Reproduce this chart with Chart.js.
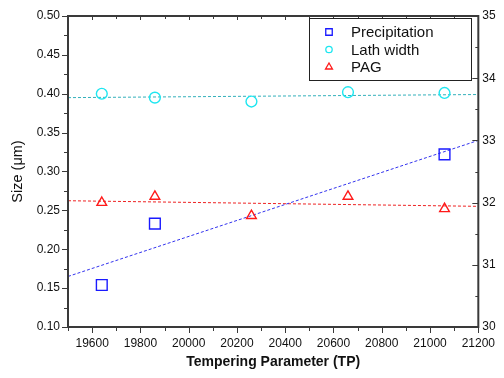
<!DOCTYPE html>
<html><head><meta charset="utf-8">
<script src="https://cdn.jsdelivr.net/npm/chart.js@4"></script>
<style>html,body{margin:0;padding:0;background:#fff}#wrap{width:504px;height:378px}</style>
</head><body><div id="wrap"><canvas id="c" width="504" height="378"></canvas></div>
<script>
// Data
const seriesNames = ['Precipitation', 'Lath width', 'PAG'];
const precipX = [19640, 19860, 21060];
const precipY = [0.154, 0.233, 0.322];
const lathX = [19640, 19860, 20260, 20660, 21060];
const lathY = [0.400, 0.395, 0.390, 0.402, 0.401];
const pagX = [19640, 19860, 20260, 20660, 21060];
const pagY = [32.0, 32.1, 31.79, 32.1, 31.9]; // right axis
// Fitted trend-line endpoints
const fitX = [19500, 21200];
const precipFit = [0.165, 0.340];
const lathFit = [0.395, 0.399];
const pagFit = [32.03, 31.94];
const xTicks = [19600, 19800, 20000, 20200, 20400, 20600, 20800, 21000, 21200];
const yTicks = [0.10, 0.15, 0.20, 0.25, 0.30, 0.35, 0.40, 0.45, 0.50];
const y2Ticks = [30, 31, 32, 33, 34, 35];

const pts = (xs, ys) => xs.map((x, i) => ({x, y: ys[i]}));
const C_BLUE = '#1a1aff', C_CYAN = '#1ee6f0', C_RED = '#ff1a1a';
const AX = '#3a3a3a';
const FONT = '"Liberation Sans", Arial, sans-serif';

const framePlugin = {
  id: 'frame',
  afterDraw(chart) {
    const ctx = chart.ctx, a = chart.chartArea;
    const sx = chart.scales.x, sy = chart.scales.y, sy2 = chart.scales.y2;
    ctx.save();
    ctx.strokeStyle = AX; ctx.lineWidth = 1;
    // x ticks (bottom outward, top inward)
    for (let v = 19500; v <= 21200; v += 100) {
      const px = Math.round(sx.getPixelForValue(v)) + 0.5;
      const major = v % 200 === 0;
      ctx.beginPath();
      ctx.moveTo(px, a.bottom); ctx.lineTo(px, a.bottom + (major ? 6 : 4));
      ctx.moveTo(px, a.top); ctx.lineTo(px, a.top + (major ? 4 : 3));
      ctx.stroke();
    }
    // left y ticks outward
    for (let k = 0; k <= 16; k++) {
      const v = 0.10 + k * 0.025;
      const py = Math.round(sy.getPixelForValue(v)) + 0.5;
      const major = k % 2 === 0;
      ctx.beginPath();
      ctx.moveTo(a.left, py); ctx.lineTo(a.left - (major ? 6 : 4), py);
      ctx.stroke();
    }
    // right y2 ticks inward
    for (let k = 0; k <= 10; k++) {
      const v = 30 + k * 0.5;
      const py = Math.round(sy2.getPixelForValue(v)) + 0.5;
      const major = k % 2 === 0;
      ctx.beginPath();
      ctx.moveTo(a.right, py); ctx.lineTo(a.right - (major ? 6 : 3), py);
      ctx.stroke();
    }
    // frame
    ctx.lineWidth = 2;
    ctx.strokeRect(a.left, a.top, a.right - a.left, a.bottom - a.top);
    // legend
    const lx = 309, ly = 18, lw = 162, lh = 62;
    ctx.fillStyle = '#fff';
    ctx.fillRect(lx, ly, lw, lh);
    ctx.lineWidth = 1; ctx.strokeStyle = '#222';
    ctx.strokeRect(lx + 0.5, ly + 0.5, lw, lh);
    const rows = [32, 49.5, 67];
    const styles = [['rect', C_BLUE, 4.6], ['circle', C_CYAN, 3.2], ['triangle', C_RED, 4]];
    ctx.font = '15px ' + FONT; ctx.textBaseline = 'middle';
    rows.forEach((ry, i) => {
      ctx.save();
      ctx.strokeStyle = styles[i][1]; ctx.fillStyle = 'rgba(0,0,0,0)'; ctx.lineWidth = 1.3;
      Chart.helpers.drawPoint(ctx, {pointStyle: styles[i][0], radius: styles[i][2], rotation: 0, borderWidth: 1.3}, 329, ry);
      ctx.restore();
      ctx.fillStyle = '#111';
      ctx.fillText(chart.data.datasets[i].label, 351, ry + 1);
    });
    ctx.restore();
  }
};

new Chart(document.getElementById('c'), {
  type: 'scatter',
  data: {
    datasets: [
      {label: seriesNames[0], data: pts(precipX, precipY), yAxisID: 'y', pointStyle: 'rect', pointRadius: 7.6, pointBorderWidth: 1.4, borderColor: C_BLUE, backgroundColor: 'transparent', showLine: false},
      {label: seriesNames[1], data: pts(lathX, lathY), yAxisID: 'y', pointStyle: 'circle', pointRadius: 5.4, pointBorderWidth: 1.4, borderColor: C_CYAN, backgroundColor: 'transparent', showLine: false},
      {label: seriesNames[2], data: pts(pagX, pagY), yAxisID: 'y2', pointStyle: 'triangle', pointRadius: 5.6, pointBorderWidth: 1.4, borderColor: C_RED, backgroundColor: 'transparent', showLine: false},
      {label: 'fitP', type: 'line', data: pts(fitX, precipFit), yAxisID: 'y', borderColor: '#3333ee', borderWidth: 1, borderDash: [3, 2], pointRadius: 0, fill: false},
      {label: 'fitL', type: 'line', data: pts(fitX, lathFit), yAxisID: 'y', borderColor: '#33b0bb', borderWidth: 1, borderDash: [3, 2], pointRadius: 0, fill: false},
      {label: 'fitG', type: 'line', data: pts(fitX, pagFit), yAxisID: 'y2', borderColor: '#ee2222', borderWidth: 1, borderDash: [3, 2], pointRadius: 0, fill: false}
    ]
  },
  options: {
    responsive: false, animation: false, devicePixelRatio: 1,
    layout: {padding: {top: 16, left: 0, right: 0, bottom: 0}},
    plugins: {legend: {display: false}, tooltip: {enabled: false}},
    scales: {
      x: {
        type: 'linear', min: 19500, max: 21200,
        afterFit: s => { s.height = 51; },
        afterBuildTicks: s => { s.ticks = xTicks.map(v => ({value: v})); },
        grid: {display: false, drawTicks: false}, border: {display: false},
        ticks: {padding: 9, color: '#111', font: {family: FONT, size: 12}, maxRotation: 0, autoSkip: false, callback: v => String(v)},
        title: {display: true, text: 'Tempering Parameter (TP)', color: '#111', font: {family: FONT, size: 14, weight: 'bold'}, padding: {top: 0, bottom: 7}}
      },
      y: {
        type: 'linear', position: 'left', min: 0.10, max: 0.50,
        afterFit: s => { s.width = 68; },
        afterBuildTicks: s => { s.ticks = yTicks.map(v => ({value: v})); },
        grid: {display: false, drawTicks: false}, border: {display: false},
        ticks: {padding: 8, color: '#111', font: {family: FONT, size: 12}, callback: v => v.toFixed(2)},
        title: {display: true, text: 'Size (μm)', color: '#111', font: {family: FONT, size: 14.5}, padding: {top: 9, bottom: 0}}
      },
      y2: {
        type: 'linear', position: 'right', min: 30, max: 35,
        afterFit: s => { s.width = 23; },
        afterBuildTicks: s => { s.ticks = y2Ticks.map(v => ({value: v})); },
        grid: {display: false, drawTicks: false}, border: {display: false},
        ticks: {padding: 4, color: '#111', font: {family: FONT, size: 12}, callback: v => String(v)}
      }
    }
  },
  plugins: [framePlugin]
});
</script></body></html>
